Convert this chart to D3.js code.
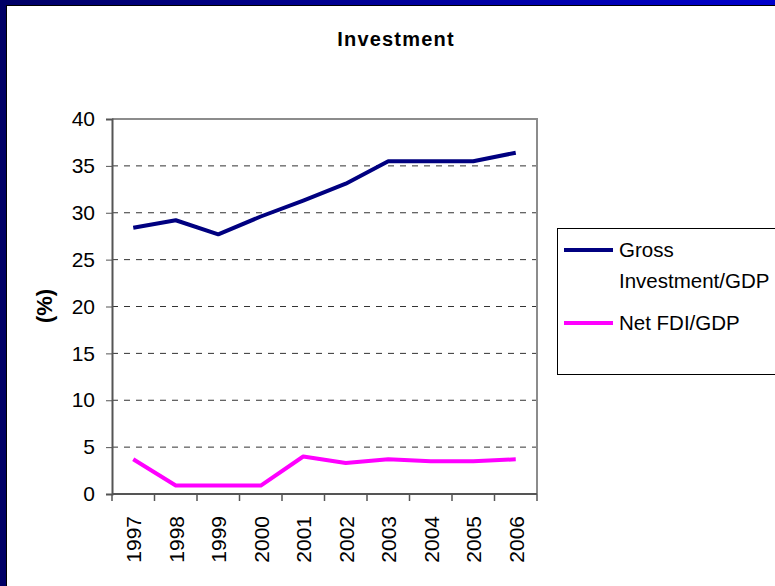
<!DOCTYPE html>
<html>
<head>
<meta charset="utf-8">
<script src="https://cdn.jsdelivr.net/npm/d3@7"></script>
<style>
  body { margin: 0; background: #fff; }
  text { font-family: "Liberation Sans", Arial, sans-serif; }
</style>
</head>
<body>
<div class="chart"></div>
<script>
var svgWidth = 775;
var svgHeight = 586;

// data
var years = ["1997", "1998", "1999", "2000", "2001", "2002", "2003", "2004", "2005", "2006"];
var grossInvestment = [28.4, 29.2, 27.7, 29.6, 31.3, 33.1, 35.5, 35.5, 35.5, 36.4];
var netFDI = [3.7, 0.9, 0.9, 0.9, 4.0, 3.3, 3.7, 3.5, 3.5, 3.7];
var yTicks = [0, 5, 10, 15, 20, 25, 30, 35, 40];
var seriesNames = ["Gross Investment/GDP", "Net FDI/GDP"];
var seriesColors = ["#000080", "#ff00ff"];

var margin = { top: 119, right: 238, bottom: 92, left: 112 };
var width = svgWidth - margin.left - margin.right;
var height = svgHeight - margin.top - margin.bottom;

var svg = d3.select(".chart")
  .append("svg")
  .attr("width", svgWidth)
  .attr("height", svgHeight);

// slide frame: gradient band on top, dark band on the left
var defs = svg.append("defs");
var grad = defs.append("linearGradient").attr("id", "topband");
grad.append("stop").attr("offset", "0%").attr("stop-color", "#000066");
grad.append("stop").attr("offset", "100%").attr("stop-color", "#0000cc");

svg.append("rect").attr("x", 0).attr("y", 0).attr("width", svgWidth).attr("height", 5)
  .attr("fill", "url(#topband)");
svg.append("rect").attr("x", 0).attr("y", 0).attr("width", 7).attr("height", svgHeight)
  .attr("fill", "#000066");
svg.append("line").attr("x1", 7).attr("x2", svgWidth).attr("y1", 5.5).attr("y2", 5.5)
  .attr("stroke", "#000").attr("stroke-width", 1);
svg.append("line").attr("x1", 6.5).attr("x2", 6.5).attr("y1", 5).attr("y2", svgHeight)
  .attr("stroke", "#000").attr("stroke-width", 1);

// title
svg.append("text")
  .attr("x", 396)
  .attr("y", 46)
  .attr("text-anchor", "middle")
  .style("font-size", "20px")
  .style("font-weight", "bold")
  .style("letter-spacing", "1.2px")
  .text("Investment");

var chartGroup = svg.append("g")
  .attr("transform", `translate(${margin.left}, ${margin.top})`);

var xScale = d3.scaleBand()
  .domain(years)
  .range([0, width]);

var yScale = d3.scaleLinear()
  .domain([0, 40])
  .range([height, 0]);

// dashed gridlines
chartGroup.append("g")
  .selectAll("line")
  .data(yTicks.filter(d => d > 0 && d < 40))
  .enter()
  .append("line")
  .attr("x1", 0)
  .attr("x2", width)
  .attr("y1", d => yScale(d))
  .attr("y2", d => yScale(d))
  .attr("stroke", "#333")
  .attr("stroke-width", 1)
  .attr("stroke-dasharray", "6,6");

// plot frame (top/right gray)
chartGroup.append("path")
  .attr("d", `M0,0H${width}V${height}`)
  .attr("fill", "none")
  .attr("stroke", "#8c8c8c")
  .attr("stroke-width", 2);

// y axis
var leftAxis = d3.axisLeft(yScale)
  .tickValues(yTicks)
  .tickSize(6)
  .tickPadding(11);

var yAxis = chartGroup.append("g").call(leftAxis);
yAxis.select(".domain").attr("stroke", "#555").attr("stroke-width", 2);
yAxis.selectAll(".tick line").attr("stroke", "#555");
yAxis.selectAll("text")
  .style("font-size", "21px")
  .attr("fill", "#000")
  .style("font-family", "'Liberation Sans', Arial, sans-serif");

// x axis: ticks at category boundaries
var xAxisG = chartGroup.append("g")
  .attr("transform", `translate(0, ${height})`);
xAxisG.append("line")
  .attr("x1", 0).attr("x2", width)
  .attr("y1", 0).attr("y2", 0)
  .attr("stroke", "#555")
  .attr("stroke-width", 2);
xAxisG.selectAll(".xtick")
  .data(years.concat(["end"]))
  .enter()
  .append("line")
  .attr("class", "xtick")
  .attr("x1", (d, i) => i * xScale.step())
  .attr("x2", (d, i) => i * xScale.step())
  .attr("y1", 0)
  .attr("y2", 7)
  .attr("stroke", "#555")
  .attr("stroke-width", 1.5);
xAxisG.selectAll(".xlabel")
  .data(years)
  .enter()
  .append("text")
  .attr("class", "xlabel")
  .attr("transform", d => `translate(${xScale(d) + xScale.bandwidth() / 2 + 8}, 22) rotate(-90)`)
  .attr("text-anchor", "end")
  .style("font-size", "21px")
  .text(d => d);

// y axis title
svg.append("text")
  .attr("transform", "translate(52, 306) rotate(-90)")
  .attr("text-anchor", "middle")
  .style("font-size", "22px")
  .style("font-weight", "bold")
  .text("(%)");

// lines
var line = d3.line()
  .x((d, i) => xScale(years[i]) + xScale.bandwidth() / 2)
  .y(d => yScale(d));

[grossInvestment, netFDI].forEach(function(series, k) {
  chartGroup.append("path")
    .datum(series)
    .attr("d", line)
    .attr("fill", "none")
    .attr("stroke", seriesColors[k])
    .attr("stroke-width", 4)
    .attr("stroke-linejoin", "round");
});

// legend
var legend = svg.append("g");
legend.append("rect")
  .attr("x", 557.5)
  .attr("y", 228.5)
  .attr("width", 230)
  .attr("height", 146)
  .attr("fill", "#fff")
  .attr("stroke", "#000")
  .attr("stroke-width", 1);

legend.append("line")
  .attr("x1", 564).attr("x2", 613)
  .attr("y1", 250).attr("y2", 250)
  .attr("stroke", seriesColors[0]).attr("stroke-width", 4);
var t1 = legend.append("text")
  .attr("x", 619)
  .attr("y", 257)
  .style("font-size", "20.5px");
t1.append("tspan").attr("x", 619).text("Gross");
t1.append("tspan").attr("x", 619).attr("dy", 31).text("Investment/GDP");

legend.append("line")
  .attr("x1", 564).attr("x2", 613)
  .attr("y1", 323).attr("y2", 323)
  .attr("stroke", seriesColors[1]).attr("stroke-width", 4);
legend.append("text")
  .attr("x", 619)
  .attr("y", 330)
  .style("font-size", "20.5px")
  .text(seriesNames[1]);
</script>
</body>
</html>
